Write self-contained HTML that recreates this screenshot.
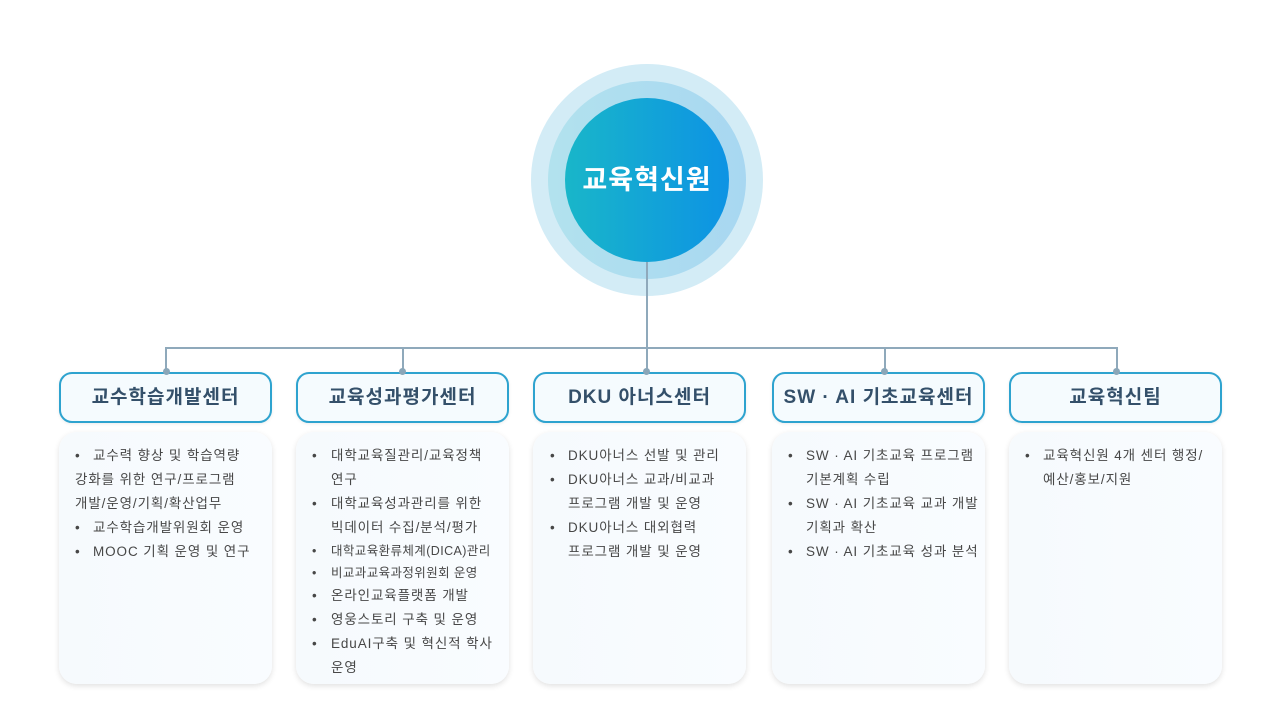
<!DOCTYPE html>
<html><head><meta charset="utf-8"><style>
*{margin:0;padding:0;box-sizing:border-box}
body{width:1280px;height:720px;background:#fff;position:relative;overflow:hidden;font-family:"Liberation Sans","Noto Sans CJK KR",sans-serif}
.a{position:absolute}
.c{border-radius:50%}
.hd{position:absolute;top:372px;width:213px;height:51px;border:2px solid #2ea3cf;border-radius:13px;background:#f5fbfe;color:#34506a;font-weight:bold;font-size:19px;letter-spacing:1px;text-align:center;line-height:47px;box-shadow:0 1px 3px rgba(0,0,0,.08)}
.bx{position:absolute;top:432px;width:213px;height:252px;border-radius:18px;background:linear-gradient(90deg,#f6fafd,#f9fcff);box-shadow:0 2px 6px rgba(0,0,0,.12)}
.l{position:absolute;height:20px;line-height:20px;font-size:13.5px;letter-spacing:0.9px;color:#474747;white-space:nowrap}
.s{font-size:12.5px;letter-spacing:0.4px}
.dot{position:absolute;width:7px;height:7px;border-radius:50%;background:#8aa6b8;top:368px}
.v{position:absolute;width:2px;background:#8fa9bb}
</style></head><body>
<div class="a c" style="left:531px;top:64px;width:232px;height:232px;background:#d3ecf6"></div>
<div class="a c" style="left:548px;top:81px;width:198px;height:198px;background:linear-gradient(90deg,#b2e2ee,#a8d7f1)"></div>
<div class="a c" style="left:565px;top:98px;width:164px;height:164px;background:linear-gradient(90deg,#19b6c9,#0d93e4);color:#fff;font-weight:bold;font-size:27px;letter-spacing:1px;text-align:center;line-height:164px">교육혁신원</div>
<div class="v" style="left:646px;top:262px;height:87px"></div>
<div class="a" style="left:165px;top:347px;width:953px;height:2px;background:#8fa9bb"></div>
<div class="v" style="left:165px;top:347px;height:25px"></div>
<div class="v" style="left:402px;top:347px;height:25px"></div>
<div class="v" style="left:646px;top:347px;height:25px"></div>
<div class="v" style="left:884px;top:347px;height:25px"></div>
<div class="v" style="left:1116px;top:347px;height:25px"></div>

<div class="hd" style="left:59px">교수학습개발센터</div>
<div class="hd" style="left:296px">교육성과평가센터</div>
<div class="hd" style="left:533px">DKU 아너스센터</div>
<div class="hd" style="left:772px">SW · AI 기초교육센터</div>
<div class="hd" style="left:1009px">교육혁신팀</div>
<div class="dot" style="left:163px"></div><div class="dot" style="left:399px"></div><div class="dot" style="left:643px"></div><div class="dot" style="left:881px"></div><div class="dot" style="left:1113px"></div>

<div class="bx" style="left:59px"></div>
<div class="bx" style="left:296px"></div>
<div class="bx" style="left:533px"></div>
<div class="bx" style="left:772px"></div>
<div class="bx" style="left:1009px"></div>

<!-- box1 -->
<div class="l" style="left:75px;top:446px">•</div><div class="l" style="left:93px;top:446px">교수력 향상 및 학습역량</div>
<div class="l" style="left:75px;top:470px">강화를 위한 연구/프로그램</div>
<div class="l" style="left:75px;top:494px">개발/운영/기획/확산업무</div>
<div class="l" style="left:75px;top:518px">•</div><div class="l" style="left:93px;top:518px">교수학습개발위원회 운영</div>
<div class="l" style="left:75px;top:542px">•</div><div class="l" style="left:93px;top:542px">MOOC 기획 운영 및 연구</div>
<!-- box2 -->
<div class="l" style="left:312px;top:446px">•</div><div class="l" style="left:331px;top:446px">대학교육질관리/교육정책</div>
<div class="l" style="left:331px;top:470px">연구</div>
<div class="l" style="left:312px;top:494px">•</div><div class="l" style="left:331px;top:494px">대학교육성과관리를 위한</div>
<div class="l" style="left:331px;top:518px">빅데이터 수집/분석/평가</div>
<div class="l s" style="left:312px;top:541px">•</div><div class="l s" style="left:331px;top:541px">대학교육환류체계(DICA)관리</div>
<div class="l s" style="left:312px;top:563px">•</div><div class="l s" style="left:331px;top:563px">비교과교육과정위원회 운영</div>
<div class="l" style="left:312px;top:586px">•</div><div class="l" style="left:331px;top:586px">온라인교육플랫폼 개발</div>
<div class="l" style="left:312px;top:610px">•</div><div class="l" style="left:331px;top:610px">영웅스토리 구축 및 운영</div>
<div class="l" style="left:312px;top:634px">•</div><div class="l" style="left:331px;top:634px">EduAI구축 및 혁신적 학사</div>
<div class="l" style="left:331px;top:658px">운영</div>
<!-- box3 -->
<div class="l" style="left:550px;top:446px">•</div><div class="l" style="left:568px;top:446px">DKU아너스 선발 및 관리</div>
<div class="l" style="left:550px;top:470px">•</div><div class="l" style="left:568px;top:470px">DKU아너스 교과/비교과</div>
<div class="l" style="left:568px;top:494px">프로그램 개발 및 운영</div>
<div class="l" style="left:550px;top:518px">•</div><div class="l" style="left:568px;top:518px">DKU아너스 대외협력</div>
<div class="l" style="left:568px;top:542px">프로그램 개발 및 운영</div>
<!-- box4 -->
<div class="l" style="left:788px;top:446px">•</div><div class="l" style="left:806px;top:446px">SW · AI 기초교육 프로그램</div>
<div class="l" style="left:806px;top:470px">기본계획 수립</div>
<div class="l" style="left:788px;top:494px">•</div><div class="l" style="left:806px;top:494px">SW · AI 기초교육 교과 개발</div>
<div class="l" style="left:806px;top:518px">기획과 확산</div>
<div class="l" style="left:788px;top:542px">•</div><div class="l" style="left:806px;top:542px">SW · AI 기초교육 성과 분석</div>
<!-- box5 -->
<div class="l" style="left:1025px;top:446px">•</div><div class="l" style="left:1043px;top:446px">교육혁신원 4개 센터 행정/</div>
<div class="l" style="left:1043px;top:470px">예산/홍보/지원</div>
</body></html>
